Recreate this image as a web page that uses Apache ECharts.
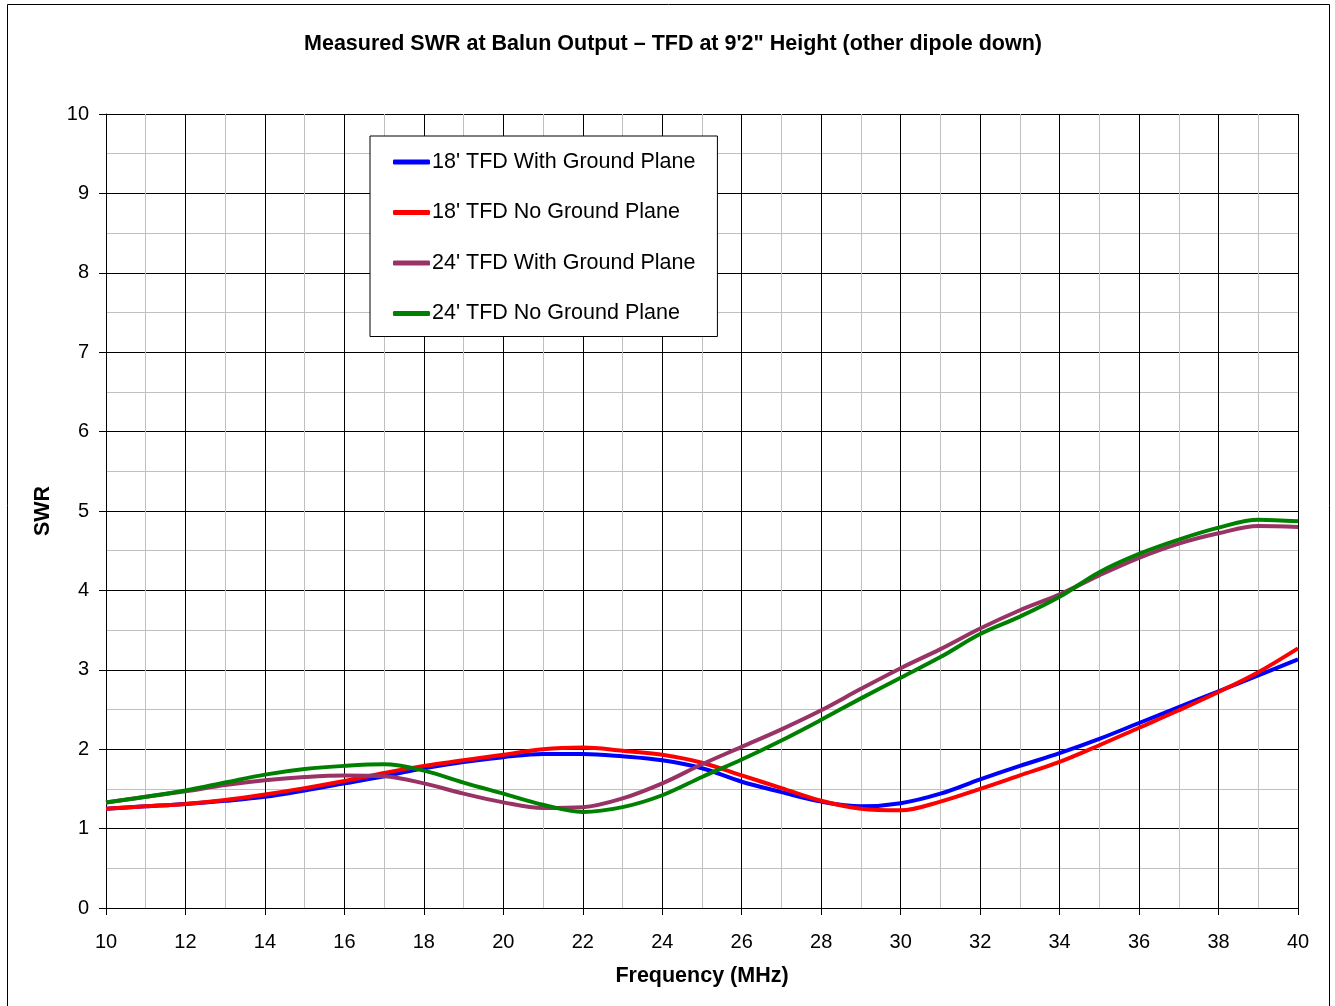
<!DOCTYPE html>
<html>
<head>
<meta charset="utf-8">
<script src="https://cdn.jsdelivr.net/npm/echarts@6/dist/echarts.min.js"></script>
<style>
html,body{margin:0;padding:0;background:#fff;}
#chart{width:1335px;height:1006px;}
</style>
</head>
<body>
<div id="chart"></div>
<script>
const freq = [10,11,12,13,14,15,16,17,18,19,20,21,22,23,24,25,26,27,28,29,30,31,32,33,34,35,36,37,38,39,40];
const tfd18WithGP = [1.25,1.28,1.31,1.35,1.40,1.48,1.57,1.66,1.76,1.84,1.90,1.94,1.94,1.91,1.86,1.76,1.59,1.46,1.34,1.28,1.32,1.44,1.62,1.79,1.95,2.13,2.33,2.53,2.73,2.93,3.13];
const tfd18NoGP   = [1.25,1.28,1.31,1.36,1.43,1.51,1.60,1.70,1.79,1.86,1.93,2.00,2.02,1.98,1.93,1.83,1.67,1.51,1.35,1.25,1.23,1.34,1.50,1.67,1.84,2.05,2.27,2.49,2.72,2.97,3.27];
const tfd24WithGP = [1.33,1.40,1.47,1.55,1.61,1.65,1.67,1.66,1.57,1.44,1.33,1.26,1.27,1.38,1.57,1.81,2.03,2.25,2.49,2.76,3.02,3.26,3.52,3.75,3.95,4.19,4.41,4.59,4.72,4.81,4.80];
const tfd24NoGP   = [1.33,1.40,1.48,1.58,1.68,1.75,1.79,1.81,1.73,1.58,1.44,1.30,1.21,1.27,1.42,1.65,1.87,2.11,2.37,2.64,2.90,3.16,3.45,3.67,3.92,4.23,4.46,4.64,4.79,4.89,4.87];
const seriesNames = ["18' TFD With Ground Plane","18' TFD No Ground Plane","24' TFD With Ground Plane","24' TFD No Ground Plane"];
const seriesColors = ['#0000ff','#ff0000','#993366','#008000'];
const seriesValues = [tfd18WithGP, tfd18NoGP, tfd24WithGP, tfd24NoGP];

const FONT = 'Liberation Sans, Arial, sans-serif';
const chart = echarts.init(document.getElementById('chart'));
chart.setOption({
  animation: false,
  backgroundColor: '#fff',
  title: {
    text: 'Measured SWR at Balun Output \u2013 TFD at 9\'2" Height (other dipole down)',
    left: 668, textAlign: 'center', top: 28,
    textStyle: {fontFamily: FONT, fontSize: 21.5, fontWeight: 'bold', color: '#000'}
  },
  graphic: [{
    type: 'rect', silent: true, z: -1,
    shape: {x: 7.5, y: 4.5, width: 1322, height: 1020},
    style: {fill: 'none', stroke: '#000', lineWidth: 1}
  }],
  legend: {
    orient: 'vertical', left: 370, top: 136,
    padding: [15, 22, 12, 23], itemGap: 28.5,
    itemWidth: 37, itemHeight: 5, icon: 'roundRect',
    borderColor: '#000', borderWidth: 1, backgroundColor: '#fff',
    textStyle: {fontFamily: FONT, fontSize: 21.5, color: '#000', lineHeight: 22, padding: [0,0,0,-3]},
    data: seriesNames
  },
  grid: {left: 106, right: 37, top: 114, bottom: 98, containLabel: false},
  xAxis: {
    type: 'value', min: 10, max: 40, interval: 2,
    name: 'Frequency (MHz)', nameLocation: 'middle', nameGap: 57,
    nameTextStyle: {fontFamily: FONT, fontSize: 21.5, fontWeight: 'bold', color: '#000'},
    axisLine: {lineStyle: {color: '#000', width: 1}},
    axisTick: {show: true, length: 7, inside: false, lineStyle: {color: '#000'}},
    axisLabel: {fontFamily: FONT, fontSize: 20, color: '#000', margin: 24},
    splitLine: {show: true, lineStyle: {color: '#000', width: 1}},
    minorTick: {show: false, splitNumber: 2},
    minorSplitLine: {show: true, lineStyle: {color: '#c0c0c0', width: 1}}
  },
  yAxis: {
    type: 'value', min: 0, max: 10, interval: 1,
    name: 'SWR', nameLocation: 'middle', nameGap: 52, nameRotate: 90,
    nameTextStyle: {fontFamily: FONT, fontSize: 21.5, fontWeight: 'bold', color: '#000'},
    axisLine: {show: true, lineStyle: {color: '#000', width: 1}},
    axisTick: {show: true, length: 7, inside: false, lineStyle: {color: '#000'}},
    axisLabel: {fontFamily: FONT, fontSize: 20, color: '#000', margin: 17},
    splitLine: {show: true, lineStyle: {color: '#000', width: 1}},
    minorTick: {show: false, splitNumber: 2},
    minorSplitLine: {show: true, lineStyle: {color: '#c0c0c0', width: 1}}
  },
  series: seriesValues.map((vals, i) => ({
    name: seriesNames[i], type: 'line', smooth: 0.35,
    symbol: 'none', showSymbol: false,
    color: seriesColors[i],
    lineStyle: {color: seriesColors[i], width: 4},
    data: freq.map((f, j) => [f, vals[j]])
  }))
});
</script>
</body>
</html>
